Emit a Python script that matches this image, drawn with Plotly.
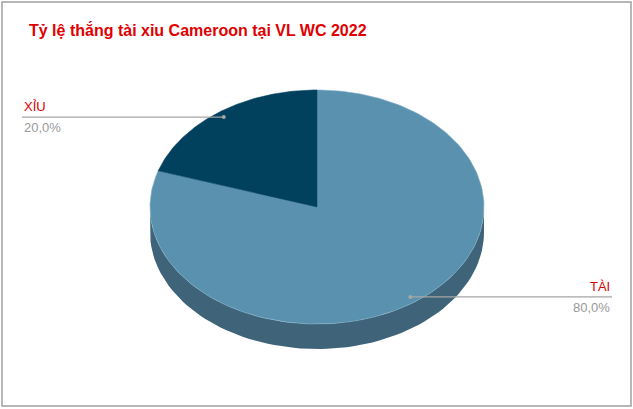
import numpy as np
import plotly.graph_objects as go

# data
labels = ["TÀI", "XỈU"]
values = [80.0, 20.0]
pct_text = ["80,0%", "20,0%"]
title = "Tỷ lệ thắng tài xỉu Cameroon tại VL WC 2022"

# colours / geometry of the fake 3d pie (pixels)
top_colors = ["#5A91AE", "#02415E"]
side_color = "#3F6479"
cx, cy, rx, ry, depth = 317, 207, 167, 117, 25

fig = go.Figure()


def pt(phi, r=1.0, dy=0.0):
    # phi in degrees, clockwise from 12 o'clock
    a = np.radians(phi)
    return cx + r * rx * np.sin(a), cy - r * ry * np.cos(a) + dy


fracs = np.array(values) / sum(values)
starts = np.concatenate([[0], np.cumsum(fracs)[:-1]]) * 360
ends = np.cumsum(fracs) * 360

# side wall (front half only)
for s, e in zip(starts, ends):
    lo, hi = max(s, 90), min(e, 270)
    if lo >= hi:
        continue
    ph = np.linspace(lo, hi, 80)
    xt, yt = pt(ph)
    xb, yb = pt(ph[::-1], dy=depth)
    fig.add_trace(go.Scatter(
        x=np.concatenate([xt, xb]), y=np.concatenate([yt, yb]),
        fill="toself", fillcolor=side_color, mode="lines",
        line=dict(width=0, color=side_color), hoverinfo="skip", showlegend=False))

# top faces
for s, e, c in zip(starts, ends, top_colors):
    ph = np.linspace(s, e, 200)
    xs, ys = pt(ph)
    fig.add_trace(go.Scatter(
        x=np.concatenate([[cx], xs, [cx]]), y=np.concatenate([[cy], ys, [cy]]),
        fill="toself", fillcolor=c, mode="lines",
        line=dict(width=0.6, color="#7FAFC8" if c == top_colors[0] else c),
        hoverinfo="skip", showlegend=False))

# leader lines and labels
for lab, pc, s, e in zip(labels, pct_text, starts, ends):
    mid = (s + e) / 2
    x0, y0 = pt(mid, r=0.95)
    if x0 < cx:
        xend, anchor = 22, "left"
    else:
        xend, anchor = 612, "right"
    fig.add_trace(go.Scatter(
        x=[x0, xend], y=[y0, y0], mode="lines",
        line=dict(color="#A6A6A6", width=1.3), hoverinfo="skip", showlegend=False))
    fig.add_trace(go.Scatter(
        x=[x0], y=[y0], mode="markers",
        marker=dict(color="#A6A6A6", size=4), hoverinfo="skip", showlegend=False))
    fig.add_annotation(x=xend, y=y0 - 1, text=lab, showarrow=False,
                       xanchor=anchor, yanchor="bottom",
                       font=dict(family="Liberation Sans", size=13, color="#E00000"))
    fig.add_annotation(x=xend, y=y0 + 1, text=pc, showarrow=False,
                       xanchor=anchor, yanchor="top",
                       font=dict(family="Liberation Sans", size=13, color="#999999"))

fig.add_annotation(x=27, y=30, text="<b>" + title + "</b>", showarrow=False,
                   xanchor="left", yanchor="middle",
                   font=dict(family="Liberation Sans", size=16, color="#E00000"))

# chart frame
fig.add_shape(type="rect", x0=2, y0=2, x1=631, y1=406,
              line=dict(color="#A0A0A0", width=1.5), fillcolor="rgba(0,0,0,0)")

fig.update_layout(
    width=633, height=409,
    margin=dict(l=0, r=0, t=0, b=0),
    paper_bgcolor="white", plot_bgcolor="white",
    xaxis=dict(range=[0, 633], visible=False, fixedrange=True),
    yaxis=dict(range=[409, 0], visible=False, fixedrange=True),
    showlegend=False,
)

fig.write_html("out.html", config={"displayModeBar": False},
               post_script="document.body.style.margin='0';document.body.style.overflow='hidden';")
